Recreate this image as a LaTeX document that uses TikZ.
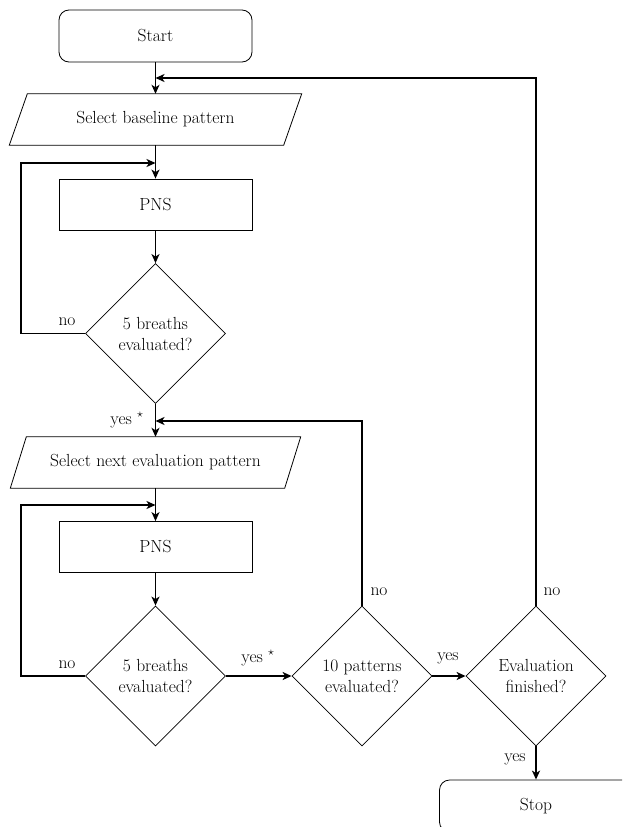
\documentclass[tikz,border=0pt]{standalone}
\usepackage{fontspec}
\usetikzlibrary{shapes.geometric,arrows.meta,calc}
\begin{document}
\begin{tikzpicture}[x=1pt,y=-1pt,
  font=\fontsize{17.5}{21}\selectfont,
  every node/.style={inner sep=1pt},
  term/.style={draw,line width=0.8pt,rounded corners=10pt,minimum width=193pt,minimum height=52pt},
  proc/.style={draw,line width=0.8pt,minimum width=193pt,minimum height=51pt},
  io/.style={minimum width=274pt,minimum height=51pt},
  dec/.style={draw,line width=0.8pt,diamond,aspect=1,minimum width=140pt,minimum height=140pt,align=center,inner sep=0pt},
  conn/.style={line width=1.8pt,-{Stealth[length=9pt,width=8pt,inset=2.5pt]}},
  lbl/.style={inner sep=0pt}]
\useasboundingbox (0,0) rectangle (622,827);
\clip (0,0) rectangle (622,827);

\node[term] (start) at (155.5,36) {Start};
\node[io] (sel1) at (155.5,119.5) {Select baseline pattern};
\draw[line width=0.8pt] ([xshift=-9pt]sel1.south west) -- ([xshift=9pt]sel1.north west) -- ([xshift=9pt]sel1.north east) -- ([xshift=-9pt]sel1.south east) -- cycle;
\node[proc] (pns1) at (155.5,204.5) {PNS};
\node[dec] (d1) at (155.5,333.5) {5 breaths\\evaluated?};
\node[io] (sel2) at (155.5,462.5) {Select next evaluation pattern};
\draw[line width=0.8pt] ([xshift=-8pt]sel2.south west) -- ([xshift=8pt]sel2.north west) -- ([xshift=8pt]sel2.north east) -- ([xshift=-8pt]sel2.south east) -- cycle;
\node[proc] (pns2) at (155.5,547) {PNS};
\node[dec] (d2) at (155.5,676) {5 breaths\\evaluated?};
\node[dec] (d3) at (362,676) {10 patterns\\evaluated?};
\node[dec] (d4) at (536,676) {Evaluation\\finished?};
\node[term] (stop) at (536,806) {Stop};

\coordinate (m1) at (155.5,78);
\coordinate (m2) at (155.5,163);
\coordinate (m3) at (155.5,421);
\coordinate (m4) at (155.5,505);
\coordinate (l1) at (21,163);
\coordinate (l2) at (21,505);

% main column
\draw[conn] (start) -- (sel1);
\draw[conn] (sel1) -- (pns1);
\draw[conn] (pns1) -- (d1);
\draw[conn] (d1) -- (sel2);
\draw[conn] (sel2) -- (pns2);
\draw[conn] (pns2) -- (d2);
\draw[conn] (d2) -- (d3);
\draw[conn] (d3) -- (d4);
\draw[conn] (d4) -- (stop);

% loops
\draw[conn] (d1.west) -| (l1) -- (m2);
\draw[conn] (d2.west) -| (l2) -- (m4);
\draw[conn] (d3.north) |- (m3);
\draw[conn] (d4.north) |- (m1);

% labels
\node[lbl] at (67,322) {no};
\node[lbl] at (67,665) {no};
\node[lbl] at (127,420) {yes $^{\star}$};
\node[lbl] at (258,658) {yes $^{\star}$};
\node[lbl] at (448,658) {yes};
\node[lbl] at (379,592) {no};
\node[lbl] at (552,592) {no};
\node[lbl] at (515,759) {yes};
\end{tikzpicture}
\end{document}
